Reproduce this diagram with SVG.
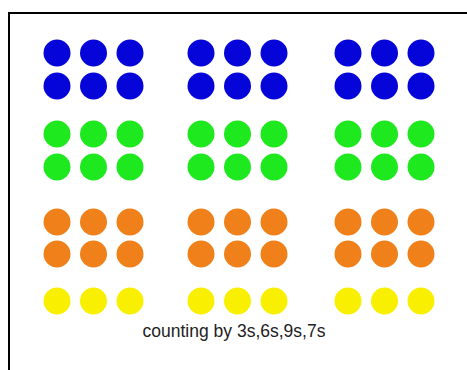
<svg xmlns="http://www.w3.org/2000/svg" width="467" height="370" viewBox="0 0 467 370">
<style>
.b{fill:#0505da}.g{fill:#1ee81e}.o{fill:#f0801a}.y{fill:#f8f000}
.t{font-family:"Liberation Sans",Arial,sans-serif;font-size:17.5px;fill:#222}
</style>
<defs>
<g id="col3"><circle cx="0" cy="0" r="13.5"/><circle cx="36.5" cy="0" r="13.5"/><circle cx="73" cy="0" r="13.5"/></g>
</defs>
<rect width="467" height="370" fill="#fff"/>
<path d="M9,370 V13 H467" fill="none" stroke="#000" stroke-width="2"/>
<g id="blue">
<use href="#col3" class="b" x="57" y="53"/><use href="#col3" class="b" x="57" y="86"/>
<use href="#col3" class="b" x="201" y="53"/><use href="#col3" class="b" x="201" y="86"/>
<use href="#col3" class="b" x="348" y="53"/><use href="#col3" class="b" x="348" y="86"/>
</g>
<g id="green">
<use href="#col3" class="g" x="57" y="134"/><use href="#col3" class="g" x="57" y="167"/>
<use href="#col3" class="g" x="201" y="134"/><use href="#col3" class="g" x="201" y="167"/>
<use href="#col3" class="g" x="348" y="134"/><use href="#col3" class="g" x="348" y="167"/>
</g>
<g id="orange">
<use href="#col3" class="o" x="57" y="222"/><use href="#col3" class="o" x="57" y="254"/>
<use href="#col3" class="o" x="201" y="222"/><use href="#col3" class="o" x="201" y="254"/>
<use href="#col3" class="o" x="348" y="222"/><use href="#col3" class="o" x="348" y="254"/>
</g>
<g id="yellow">
<use href="#col3" class="y" x="57" y="301"/>
<use href="#col3" class="y" x="201" y="301"/>
<use href="#col3" class="y" x="348" y="301"/>
</g>
<text class="t" x="234" y="337" text-anchor="middle">counting by 3s,6s,9s,7s</text>
</svg>
